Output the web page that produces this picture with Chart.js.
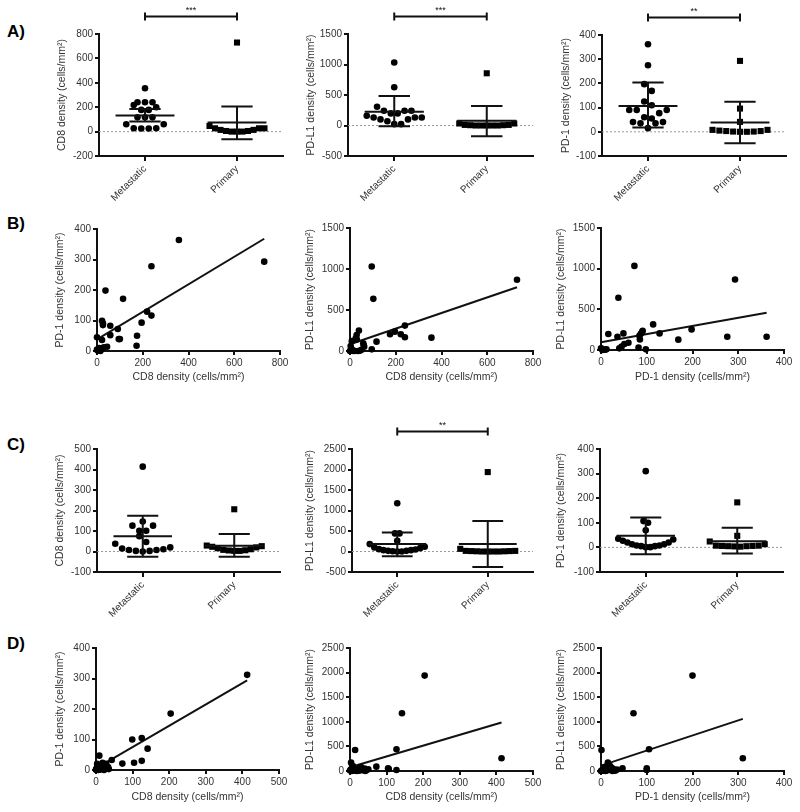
<!DOCTYPE html>
<html>
<head>
<meta charset="utf-8">
<script src="https://cdn.jsdelivr.net/npm/chart.js@4.4.0/dist/chart.umd.min.js"></script>
<style>
  body { margin: 0; background: #fff; }
  #fig { position: relative; width: 800px; height: 812px; overflow: hidden; }
  #fig canvas { position: absolute; left: 0; top: 0; }
  .tag { position: absolute; font: bold 17px 'Liberation Sans', Arial, sans-serif; line-height: 1; color: #000; }
</style>
</head>
<body>
<div id="fig">
  <div class="tag" style="left:7px;top:23px">A)</div>
  <div class="tag" style="left:7px;top:215px">B)</div>
  <div class="tag" style="left:7px;top:436px">C)</div>
  <div class="tag" style="left:7px;top:635px">D)</div>
</div>
<script>
// ---- data ----
const groups = ['Metastatic', 'Primary'];

// A) all cases
const cd8MetA = [355, 240, 240, 240, 218, 200, 178, 178, 117, 117, 117, 60, 60, 27, 25, 25, 27];
const cd8PriA = [730, 46, 27, 14, 5, 0, 0, 0, 5, 14, 27, 27];
const cd8MeanA = [131, 74], cd8LowA = [82, -63], cd8HighA = [186, 205];

const pdl1MetA = [1032, 626, 307, 241, 241, 241, 198, 198, 160, 132, 132, 132, 100, 100, 70, 22, 22];
const pdl1PriA = [856, 33, 10, 5, 0, 0, 0, 0, 0, 5, 10, 33];
const pdl1MeanA = [225, 77], pdl1LowA = [-11, -176], pdl1HighA = [483, 318];

const pd1MetA = [362, 275, 197, 169, 125, 110, 90, 90, 90, 77, 60, 55, 40, 40, 35, 35, 15];
const pd1PriA = [293, 96, 41, 8, 5, 3, 1, 0, 0, 1, 3, 8];
const pd1MeanA = [107, 38], pd1LowA = [18, -47], pd1HighA = [204, 124];

const sigA = ['***', '***', '**'];

// B) correlations, all cases  [x, y]
const cd8Pd1B = [[358,364],[731,293],[238,278],[37,198],[114,171],[219,129],[238,116],[22,99],[26,91],[26,85],
  [58,83],[195,93],[91,72],[58,52],[95,39],[100,39],[175,50],[173,17],[0,45],[22,36],[44,14],[0,5],[7,5],
  [15,3],[22,8],[10,10],[3,2],[30,12],[15,0]];
const cd8Pdl1B = [[95,1031],[102,636],[730,868],[356,163],[240,310],[196,236],[175,204],[222,204],[240,167],
  [116,114],[39,249],[29,196],[25,155],[58,94],[62,53],[95,20],[5,30],[10,10],[15,5],[0,0],[35,0],[45,5],
  [50,15],[20,0],[3,60],[8,120],[30,140],[60,70],[12,2]];
const pd1Pdl1B = [[73,1034],[38,642],[293,866],[114,315],[91,237],[198,253],[128,204],[16,196],[49,204],
  [36,163],[84,176],[87,200],[276,163],[362,163],[169,127],[51,74],[45,41],[82,29],[98,8],[0,20],[5,5],
  [12,10],[3,0],[40,20],[85,130],[90,220],[9,3],[60,90],[2,15]];
const fitCd8Pd1B = [[0, 38], [731, 368]];
const fitCd8Pdl1B = [[0, 82], [730, 778]];
const fitPd1Pdl1B = [[0, 94], [362, 458]];

// C) second cohort
const cd8MetC = [414, 146, 126, 126, 101, 101, 75, 46, 38, 15, 7, 3, 0, 3, 7, 11, 20];
const cd8PriC = [206, 29, 23, 16, 8, 5, 3, 3, 6, 11, 20, 26];
const cd8MeanC = [75, 28], cd8LowC = [-26, -26], cd8HighC = [175, 85];

const pdl1MetC = [1177, 441, 441, 262, 180, 98, 57, 33, 16, 0, 0, 16, 33, 49, 82, 115, 5];
const pdl1PriC = [1937, 65, 15, 10, 5, 0, 0, 0, 0, 5, 10, 15];
const pdl1MeanC = [180, 180], pdl1LowC = [-114, -376], pdl1HighC = [466, 744];

const pd1MetC = [310, 107, 100, 70, 35, 27, 20, 13, 8, 5, 1, 1, 5, 8, 13, 20, 32];
const pd1PriC = [183, 47, 13, 7, 6, 5, 4, 3, 5, 6, 7, 24];
const pd1MeanC = [47, 25], pd1LowC = [-28, -25], pd1HighC = [122, 80];

const sigC = [null, '**', null];

// D) correlations, second cohort
const cd8Pd1D = [[413,312],[204,185],[99,100],[125,105],[141,70],[72,21],[104,24],[125,30],[43,33],[9,47],
  [15,8],[20,15],[28,20],[33,10],[18,24],[4,10],[0,2],[6,0],[2,5],[25,5],[35,3],[12,3],[8,15],[30,8],[1,0],
  [3,20],[22,0],[10,1],[16,12]];
const cd8Pdl1D = [[204,1939],[142,1175],[127,441],[14,428],[414,258],[72,88],[104,54],[106,40],[127,20],
  [3,170],[10,60],[20,30],[30,80],[40,50],[45,20],[5,0],[0,10],[15,10],[25,5],[35,15],[8,100],[12,40],
  [18,0],[2,30],[50,35],[28,60],[22,20],[6,5],[42,0]];
const pd1Pdl1D = [[200,1939],[71,1175],[105,441],[310,258],[1,428],[100,54],[47,54],[15,170],[24,60],
  [27,40],[12,10],[18,20],[25,0],[35,30],[30,15],[5,5],[8,80],[20,100],[0,0],[3,20],[10,0],[22,40],
  [13,50],[32,10],[6,30],[100,20],[2,10],[16,90],[28,5]];
const fitCd8Pd1D = [[0, 5], [413, 294]];
const fitCd8Pdl1D = [[0, 75], [414, 987]];
const fitPd1Pdl1D = [[0, 109], [310, 1060]];

// tick values
const ticksCd8A = [-200, 0, 200, 400, 600, 800];
const ticksPdl1A = [-500, 0, 500, 1000, 1500];
const ticksPd1A = [-100, 0, 100, 200, 300, 400];
const ticksCd8C = [-100, 0, 100, 200, 300, 400, 500];
const ticksPdl1C = [-500, 0, 500, 1000, 1500, 2000, 2500];
const ticksPd1C = [-100, 0, 100, 200, 300, 400];
const ticks800 = [0, 200, 400, 600, 800];
const ticks400 = [0, 100, 200, 300, 400];
const ticks500 = [0, 100, 200, 300, 400, 500];
const ticks1500 = [0, 500, 1000, 1500];
const ticks2500 = [0, 500, 1000, 1500, 2000, 2500];

const CD8 = 'CD8 density (cells/mm²)';
const PDL1 = 'PD-L1 density (cells/mm²)';
const PD1 = 'PD-1 density (cells/mm²)';

// ---- drawing ----
const INK = '#111';
const TXT = '#333';
Chart.defaults.font.family = "'Liberation Sans', Arial, Helvetica, sans-serif";
Chart.defaults.color = TXT;

function addCanvas() {
    const c = document.createElement('canvas');
    c.width = 800;
    c.height = 812;
    document.getElementById('fig').appendChild(c);
    return c;
}

function yAxis(ticks, title, width) {
    return {
        type: 'linear',
        min: ticks[0],
        max: ticks[ticks.length - 1],
        border: { color: INK, width: 2 },
        grid: { drawOnChartArea: false, color: INK, lineWidth: 2, tickLength: 4 },
        ticks: { stepSize: ticks[1] - ticks[0], color: TXT, font: { size: 10 }, padding: 2, callback: v => String(v) },
        title: { display: true, text: title, color: TXT, font: { size: 10.5 }, padding: { top: 4, bottom: 4 } },
        afterFit: s => { s.width = width; }
    };
}

function xValues(ticks, title, height) {
    return {
        type: 'linear',
        min: ticks[0],
        max: ticks[ticks.length - 1],
        border: { color: INK, width: 2 },
        grid: { drawOnChartArea: false, color: INK, lineWidth: 2, tickLength: 4 },
        ticks: { stepSize: ticks[1] - ticks[0], color: TXT, font: { size: 10 }, padding: 2, maxRotation: 0, callback: v => String(v) },
        title: { display: true, text: title, color: TXT, font: { size: 10.5 }, padding: { top: 4, bottom: 4 } },
        afterFit: s => { s.height = height; }
    };
}

function xGroups(height) {
    return {
        type: 'linear',
        min: -0.5,
        max: 1.5,
        afterBuildTicks: s => { s.ticks = groups.map((g, i) => ({ value: i })); },
        border: { color: INK, width: 2 },
        grid: { drawOnChartArea: false, color: INK, lineWidth: 2, tickLength: 5 },
        ticks: { autoSkip: false, minRotation: 45, maxRotation: 45, padding: 2, color: TXT, font: { size: 10 },
                 callback: v => groups[v] },
        afterFit: s => { s.height = height; }
    };
}

// place points in rows like a scatter dot plot: bin by value, spread sideways, smallest in the middle
function swarm(values, center, xs, ys, binPx) {
    const unitsPerPx = (ys.max - ys.min) / (ys.bottom - ys.top);
    const bin = binPx * unitsPerPx;
    const rows = {};
    values.forEach(v => {
        const k = Math.floor(v / bin);
        (rows[k] = rows[k] || []).push(v);
    });
    const maxN = Math.max(...Object.values(rows).map(r => r.length));
    const stepPx = maxN > 1 ? Math.min(7.5, 55 / (maxN - 1)) : 0;
    const step = stepPx * (xs.max - xs.min) / (xs.right - xs.left);
    const pts = [];
    Object.values(rows).forEach(row => {
        row.sort((a, b) => a - b);
        const n = row.length;
        const slots = [];
        for (let i = n - 1; i >= 0; i--) slots.push((i - (n - 1) / 2) * step);
        slots.sort((a, b) => Math.abs(a) - Math.abs(b));
        row.forEach((v, i) => pts.push({ x: center + slots[i], y: v }));
    });
    return pts;
}

function dotPlot(p) {
    const [l, t, r, b] = p.box;
    const yW = l - (p.titleX - 10.3);
    const xH = 60;
    const deco = {
        id: 'deco',
        beforeDatasetsDraw(chart) {
            const { ctx, chartArea: a, scales: { y } } = chart;
            const y0 = y.getPixelForValue(0);
            ctx.save();
            ctx.strokeStyle = '#9a9a9a';
            ctx.lineWidth = 1;
            ctx.setLineDash([2, 2]);
            ctx.beginPath();
            ctx.moveTo(a.left, y0);
            ctx.lineTo(a.right, y0);
            ctx.stroke();
            ctx.restore();
        },
        afterDatasetsDraw(chart) {
            const { ctx, scales: { x, y } } = chart;
            ctx.save();
            ctx.strokeStyle = INK;
            ctx.lineWidth = 2;
            groups.forEach((g, i) => {
                const cx = x.getPixelForValue(i);
                const mw = x.getPixelForValue(i + 0.32) - cx;
                const cw = x.getPixelForValue(i + 0.17) - cx;
                const ym = y.getPixelForValue(p.mean[i]);
                const yl = y.getPixelForValue(p.low[i]);
                const yh = y.getPixelForValue(p.high[i]);
                ctx.beginPath();
                ctx.moveTo(cx - mw, ym); ctx.lineTo(cx + mw, ym);
                ctx.moveTo(cx, yl); ctx.lineTo(cx, yh);
                ctx.moveTo(cx - cw, yl); ctx.lineTo(cx + cw, yl);
                ctx.moveTo(cx - cw, yh); ctx.lineTo(cx + cw, yh);
                ctx.stroke();
            });
            ctx.restore();
        },
        afterDraw(chart) {
            if (!p.sig) return;
            const { ctx, chartArea: a, scales: { x } } = chart;
            const x1 = x.getPixelForValue(0), x2 = x.getPixelForValue(1);
            const yb = a.top - 17.5;
            ctx.save();
            ctx.strokeStyle = INK;
            ctx.lineWidth = 2;
            ctx.beginPath();
            ctx.moveTo(x1, yb); ctx.lineTo(x2, yb);
            ctx.moveTo(x1, yb - 4); ctx.lineTo(x1, yb + 4);
            ctx.moveTo(x2, yb - 4); ctx.lineTo(x2, yb + 4);
            ctx.stroke();
            ctx.fillStyle = INK;
            ctx.font = "9px 'Liberation Sans', Arial, sans-serif";
            ctx.textAlign = 'center';
            ctx.textBaseline = 'alphabetic';
            ctx.fillText(p.sig, (x1 + x2) / 2, yb - 4);
            ctx.restore();
        }
    };
    const chart = new Chart(addCanvas(), {
        type: 'scatter',
        data: {
            datasets: [
                { data: [], pointStyle: 'circle', pointRadius: 3.3, backgroundColor: '#000', borderWidth: 0, clip: false },
                { data: [], pointStyle: 'rect', pointRadius: 4.3, backgroundColor: '#000', borderWidth: 0, clip: false }
            ]
        },
        options: {
            animation: false,
            responsive: false,
            events: [],
            layout: { padding: { left: l - yW, top: t, right: 800 - r, bottom: 812 - b - xH } },
            plugins: { legend: { display: false }, tooltip: { enabled: false } },
            scales: { x: xGroups(xH), y: yAxis(p.ticks, p.title, yW) }
        },
        plugins: [deco]
    });
    const xs = chart.scales.x, ys = chart.scales.y;
    const bins = p.binPx || [9, 9];
    chart.data.datasets[0].data = swarm(p.met, 0, xs, ys, bins[0]);
    chart.data.datasets[1].data = swarm(p.pri, 1, xs, ys, bins[1]);
    chart.update('none');
}

function scatterPlot(p) {
    const [l, t, r, b] = p.box;
    const yW = l - (p.titleX - 10.3);
    const xH = p.xTitleY - b + 10.3;
    new Chart(addCanvas(), {
        type: 'scatter',
        data: {
            datasets: [
                { data: p.points.map(d => ({ x: d[0], y: d[1] })), pointStyle: 'circle', pointRadius: 3.3,
                  backgroundColor: '#000', borderWidth: 0, clip: false },
                { data: p.fit.map(d => ({ x: d[0], y: d[1] })), showLine: true, pointRadius: 0,
                  borderColor: INK, borderWidth: 2, clip: false }
            ]
        },
        options: {
            animation: false,
            responsive: false,
            events: [],
            layout: { padding: { left: l - yW, top: t, right: 800 - r, bottom: 812 - b - xH } },
            plugins: { legend: { display: false }, tooltip: { enabled: false } },
            scales: { x: xValues(p.xTicks, p.xTitle, xH), y: yAxis(p.yTicks, p.yTitle, yW) }
        }
    });
}

// ---- panels ----
dotPlot({ box: [99, 34, 283, 156], titleX: 62, ticks: ticksCd8A, title: CD8, met: cd8MetA, pri: cd8PriA,
          mean: cd8MeanA, low: cd8LowA, high: cd8HighA, sig: sigA[0] });
dotPlot({ box: [348, 34, 533, 156], titleX: 311.5, ticks: ticksPdl1A, title: PDL1, met: pdl1MetA, pri: pdl1PriA,
          mean: pdl1MeanA, low: pdl1LowA, high: pdl1HighA, sig: sigA[1], binPx: [12, 9] });
dotPlot({ box: [602, 35, 786, 156], titleX: 566.5, ticks: ticksPd1A, title: PD1, met: pd1MetA, pri: pd1PriA,
          mean: pd1MeanA, low: pd1LowA, high: pd1HighA, sig: sigA[2], binPx: [12, 9] });

scatterPlot({ box: [97, 229, 280, 351], titleX: 60, xTitleY: 377, points: cd8Pd1B, fit: fitCd8Pd1B,
              xTicks: ticks800, yTicks: ticks400, xTitle: CD8, yTitle: PD1 });
scatterPlot({ box: [350, 228, 533, 351], titleX: 310, xTitleY: 377, points: cd8Pdl1B, fit: fitCd8Pdl1B,
              xTicks: ticks800, yTicks: ticks1500, xTitle: CD8, yTitle: PDL1 });
scatterPlot({ box: [601, 228, 784, 350], titleX: 561.5, xTitleY: 377, points: pd1Pdl1B, fit: fitPd1Pdl1B,
              xTicks: ticks400, yTicks: ticks1500, xTitle: PD1, yTitle: PDL1 });

dotPlot({ box: [97, 449, 280, 572], titleX: 60, ticks: ticksCd8C, title: CD8, met: cd8MetC, pri: cd8PriC,
          mean: cd8MeanC, low: cd8LowC, high: cd8HighC, sig: sigC[0] });
dotPlot({ box: [352, 449, 533, 572], titleX: 310, ticks: ticksPdl1C, title: PDL1, met: pdl1MetC, pri: pdl1PriC,
          mean: pdl1MeanC, low: pdl1LowC, high: pdl1HighC, sig: sigC[1] });
dotPlot({ box: [600, 449, 783, 572], titleX: 561.5, ticks: ticksPd1C, title: PD1, met: pd1MetC, pri: pd1PriC,
          mean: pd1MeanC, low: pd1LowC, high: pd1HighC, sig: sigC[2] });

scatterPlot({ box: [96, 648, 279, 770], titleX: 60, xTitleY: 797, points: cd8Pd1D, fit: fitCd8Pd1D,
              xTicks: ticks500, yTicks: ticks400, xTitle: CD8, yTitle: PD1 });
scatterPlot({ box: [350, 648, 533, 771], titleX: 310, xTitleY: 797, points: cd8Pdl1D, fit: fitCd8Pdl1D,
              xTicks: ticks500, yTicks: ticks2500, xTitle: CD8, yTitle: PDL1 });
scatterPlot({ box: [601, 648, 784, 771], titleX: 561.5, xTitleY: 797, points: pd1Pdl1D, fit: fitPd1Pdl1D,
              xTicks: ticks400, yTicks: ticks2500, xTitle: PD1, yTitle: PDL1 });
</script>
</body>
</html>
